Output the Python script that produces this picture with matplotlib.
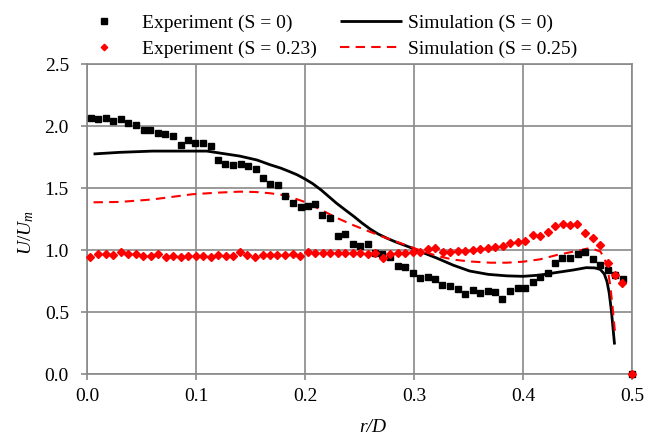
import matplotlib
matplotlib.use("Agg")
import matplotlib.pyplot as plt

plt.rcParams['font.family'] = ['Liberation Serif', 'DejaVu Serif']
plt.rcParams['mathtext.fontset'] = 'custom'
plt.rcParams['mathtext.rm'] = 'Liberation Serif'
plt.rcParams['mathtext.it'] = 'Liberation Serif:italic'

# ---------------- data ----------------
exp0_r = [0.0034, 0.010, 0.017, 0.024, 0.031, 0.038, 0.045, 0.052, 0.058, 0.065,
          0.072, 0.079, 0.086, 0.093, 0.0995, 0.106, 0.1135, 0.1205, 0.127, 0.134,
          0.141, 0.148, 0.155, 0.1615, 0.168, 0.175, 0.182, 0.189, 0.196, 0.203,
          0.2095, 0.216, 0.223, 0.230, 0.237, 0.2437, 0.2508, 0.258, 0.2645, 0.271,
          0.278, 0.285, 0.292, 0.299, 0.3055, 0.3125, 0.319, 0.326, 0.333, 0.340,
          0.347, 0.354, 0.3606, 0.3676, 0.3746, 0.381, 0.388, 0.395, 0.402, 0.409,
          0.4156, 0.4226, 0.429, 0.436, 0.443, 0.450, 0.457, 0.464, 0.471, 0.4777,
          0.4844, 0.4915, 0.4997]
exp0_u = [2.065, 2.06, 2.07, 2.04, 2.056, 2.03, 2.01, 1.97, 1.97, 1.95,
          1.94, 1.92, 1.85, 1.89, 1.865, 1.865, 1.84, 1.73, 1.70, 1.686,
          1.70, 1.68, 1.656, 1.58, 1.537, 1.53, 1.44, 1.38, 1.347, 1.36,
          1.373, 1.285, 1.263, 1.113, 1.134, 1.05, 1.037, 1.048, 0.978, 0.972,
          0.943, 0.873, 0.868, 0.82, 0.774, 0.782, 0.768, 0.723, 0.712, 0.688,
          0.645, 0.677, 0.656, 0.669, 0.666, 0.61, 0.674, 0.70, 0.70, 0.742,
          0.785, 0.817, 0.90, 0.938, 0.938, 0.973, 0.984, 0.933, 0.879, 0.841,
          0.80, 0.768, 0.0]

exp23_r = [0.0028, 0.0101, 0.0172, 0.0241, 0.0309, 0.0379, 0.0447, 0.0517, 0.0584, 0.0651,
           0.0722, 0.0792, 0.0860, 0.0929, 0.0997, 0.1067, 0.1135, 0.1202, 0.1272, 0.1339,
           0.1406, 0.1471, 0.1541, 0.1612, 0.1679, 0.1746, 0.1817, 0.1887, 0.1954, 0.2028,
           0.2094, 0.2162, 0.2232, 0.2303, 0.2370, 0.2438, 0.2507, 0.2578, 0.2645, 0.2713,
           0.2780, 0.2850, 0.2917, 0.2988, 0.3055, 0.3126, 0.3193, 0.3263, 0.3330, 0.3401,
           0.3471, 0.3539, 0.3606, 0.3676, 0.3746, 0.3814, 0.3881, 0.3950, 0.4018, 0.4089,
           0.4156, 0.4227, 0.4294, 0.4364, 0.4431, 0.4498, 0.4569, 0.4639, 0.4709, 0.4777,
           0.4844, 0.4911, 0.4997]
exp23_u = [0.949, 0.968, 0.968, 0.962, 0.984, 0.968, 0.968, 0.957, 0.957, 0.968,
           0.949, 0.957, 0.949, 0.957, 0.957, 0.957, 0.949, 0.962, 0.957, 0.957,
           0.984, 0.962, 0.949, 0.962, 0.962, 0.962, 0.962, 0.973, 0.957, 0.984,
           0.981, 0.976, 0.976, 0.981, 0.976, 0.976, 0.976, 0.970, 0.976, 0.935,
           0.970, 0.976, 0.976, 0.984, 0.989, 1.008, 1.016, 0.989, 0.989, 0.997,
           0.997, 1.003, 1.008, 1.016, 1.024, 1.035, 1.056, 1.070, 1.078, 1.123,
           1.118, 1.150, 1.198, 1.212, 1.204, 1.210, 1.142, 1.097, 1.043, 0.900,
           0.800, 0.739, 0.0]

sim0_r = [0.006, 0.03, 0.06, 0.09, 0.11, 0.125, 0.14, 0.156, 0.168, 0.178,
          0.186, 0.193, 0.200, 0.207, 0.215, 0.222, 0.229, 0.237, 0.245, 0.252,
          0.260, 0.267, 0.275, 0.283, 0.290, 0.300, 0.310, 0.321, 0.336, 0.351,
          0.368, 0.385, 0.40, 0.4156, 0.43, 0.446, 0.458, 0.466, 0.471, 0.4745,
          0.477, 0.479, 0.481, 0.4825, 0.484]
sim0_u = [1.777, 1.79, 1.80, 1.80, 1.80, 1.78, 1.76, 1.728, 1.69, 1.662,
          1.634, 1.608, 1.575, 1.538, 1.485, 1.432, 1.379, 1.325, 1.272, 1.222,
          1.170, 1.132, 1.098, 1.068, 1.045, 1.012, 0.975, 0.937, 0.880, 0.833,
          0.806, 0.794, 0.79, 0.80, 0.82, 0.841, 0.86, 0.858, 0.845, 0.81,
          0.75, 0.66, 0.52, 0.38, 0.24]

sim25_r = [0.006, 0.03, 0.06, 0.0966, 0.12, 0.14, 0.155, 0.168, 0.178, 0.186,
           0.1985, 0.213, 0.229, 0.245, 0.26, 0.275, 0.29, 0.3055, 0.321, 0.336,
           0.351, 0.37, 0.385, 0.40, 0.4156, 0.431, 0.446, 0.454, 0.46, 0.466,
           0.471, 0.475, 0.478, 0.48, 0.482, 0.4835, 0.4845]
sim25_u = [1.387, 1.39, 1.41, 1.452, 1.465, 1.473, 1.47, 1.46, 1.448, 1.432,
           1.394, 1.334, 1.262, 1.200, 1.148, 1.098, 1.050, 1.000, 0.955, 0.925,
           0.910, 0.90, 0.90, 0.908, 0.927, 0.962, 0.989, 1.003, 1.016, 1.005,
           0.99, 0.93, 0.83, 0.72, 0.56, 0.42, 0.33]

labels = ["Experiment (S = 0)", "Experiment (S = 0.23)",
          "Simulation (S = 0)", "Simulation (S = 0.25)"]
xticks = [0.0, 0.1, 0.2, 0.3, 0.4, 0.5]
yticks = [0.0, 0.5, 1.0, 1.5, 2.0, 2.5]

# ---------------- figure ----------------
W, H = 662, 441
fig = plt.figure(figsize=(W / 100, H / 100), dpi=100)
ax = fig.add_axes([87 / W, 1 - 374.3 / H, 545 / W, 310 / H])

grid_c = '#898989'
ax.set_xlim(0, 0.5)
ax.set_ylim(0, 2.5)
ax.set_xticks(xticks)
ax.set_yticks(yticks)
ax.set_xticklabels([f"{v:.1f}" for v in xticks])
ax.set_yticklabels([f"{v:.1f}" for v in yticks])
ax.grid(True, color=grid_c, linewidth=1.2)
ax.set_axisbelow(True)
for s in ax.spines.values():
    s.set_color(grid_c)
    s.set_linewidth(1.2)
ax.tick_params(axis='both', colors=grid_c, labelcolor='black', labelsize=14,
               length=4, width=1.2, direction='out')
ax.tick_params(axis='y', pad=9)
ax.tick_params(axis='x', pad=6)

l_sim0, = ax.plot(sim0_r, sim0_u, color='black', lw=2.0, zorder=3,
                  solid_capstyle='butt', solid_joinstyle='round')
l_sim25, = ax.plot(sim25_r, sim25_u, color='#ff0000', lw=1.5,
                   linestyle=(0, (4.5, 3)), zorder=3)
l_exp0, = ax.plot(exp0_r, exp0_u, linestyle='none', marker='s', ms=4.8,
                  color='black', zorder=4, clip_on=False)
l_exp23, = ax.plot(exp23_r, exp23_u, linestyle='none', marker='D', ms=4.1,
                   color='#ff0000', zorder=5, clip_on=False)

ax.set_xlabel('r/D', fontsize=14, style='italic')
ax.xaxis.set_label_coords((373 - 87) / 545, (374.3 - 428) / 310)
ax.xaxis.label.set_verticalalignment('center')
ax.set_ylabel('$U/U_m$', fontsize=14)
ax.yaxis.set_label_coords((26 - 87) / 545, (374.3 - 233) / 310)
ax.yaxis.label.set_verticalalignment('center')

fig.legend([l_exp0, l_exp23, l_sim0, l_sim25], labels, ncol=2,
           loc='upper left', bbox_to_anchor=(73 / W, 1 - 14 / H),
           frameon=False, fontsize=14, handlelength=3.2, handletextpad=0.33,
           columnspacing=1.2, labelspacing=0.46, borderpad=0, borderaxespad=0,
           markerscale=0.8)

fig.savefig('out.png', dpi=100)
